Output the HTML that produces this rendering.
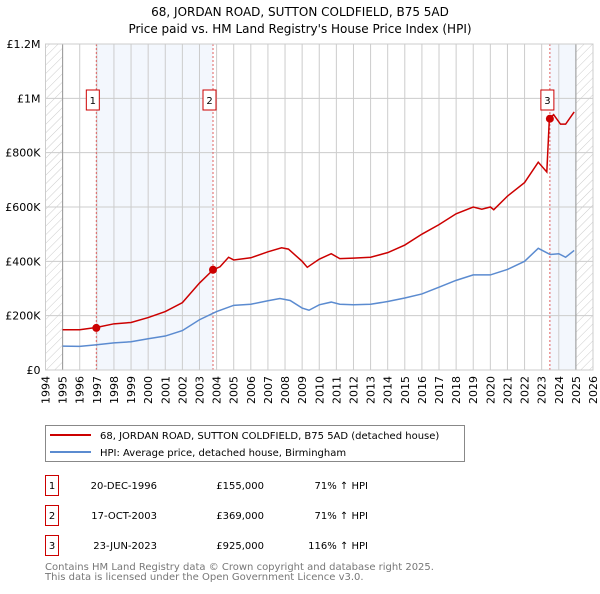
<!DOCTYPE html>
<html><head><meta charset="utf-8"><style>
body{margin:0;background:#fff;font-family:"DejaVu Sans","Liberation Sans",sans-serif;}
svg text{font-family:"DejaVu Sans","Liberation Sans",sans-serif;}
</style></head><body>
<svg id="chart" width="600" height="590" xmlns="http://www.w3.org/2000/svg">
<defs><pattern id="hatch" width="6" height="6" patternUnits="userSpaceOnUse" patternTransform="rotate(45)"><line x1="0" y1="0" x2="0" y2="6" stroke="#ccc" stroke-width="1"/></pattern></defs>
<text x="300" y="16" text-anchor="middle" font-size="12">68, JORDAN ROAD, SUTTON COLDFIELD, B75 5AD</text>
<text x="300" y="33" text-anchor="middle" font-size="12">Price paid vs. HM Land Registry's House Price Index (HPI)</text>
<g id="grid"></g><g id="marks"></g><g id="axes"></g>
<g>
<rect x="45.5" y="425.5" width="419" height="36" fill="#fff" stroke="#888"/>
<line x1="50" y1="435" x2="91" y2="435" stroke="#cc0000" stroke-width="2"/>
<text x="100" y="439" font-size="10">68, JORDAN ROAD, SUTTON COLDFIELD, B75 5AD (detached house)</text>
<line x1="50" y1="452" x2="91" y2="452" stroke="#5b8bd0" stroke-width="2"/>
<text x="100" y="456" font-size="10">HPI: Average price, detached house, Birmingham</text>
</g>
<g id="table" font-size="10"></g>
<text x="45" y="570" font-size="10" fill="#777">Contains HM Land Registry data © Crown copyright and database right 2025.</text>
<text x="45" y="580" font-size="10" fill="#777">This data is licensed under the Open Government Licence v3.0.</text>
</svg>
<script>
const yearTicks=[1994,1995,1996,1997,1998,1999,2000,2001,2002,2003,2004,2005,2006,2007,2008,2009,2010,2011,2012,2013,2014,2015,2016,2017,2018,2019,2020,2021,2022,2023,2024,2025,2026];
const priceTicks=[0,200000,400000,600000,800000,1000000,1200000];
const priceTickLabels=["£0","£200K","£400K","£600K","£800K","£1M","£1.2M"];
const hpiYears=[1995,1996,1997,1998,1999,2000,2001,2002,2003,2004,2005,2006,2007,2007.7,2008.3,2009,2009.4,2010,2010.7,2011.2,2012,2013,2014,2015,2016,2017,2018,2019,2020,2021,2022,2022.8,2023.5,2024,2024.4,2024.9];
const hpiValues=[88000,87000,93000,100000,104000,115000,125000,145000,185000,215000,238000,242000,255000,263000,256000,228000,220000,240000,250000,242000,240000,242000,252000,265000,280000,305000,330000,350000,350000,370000,400000,448000,425000,428000,415000,440000];
const priceYears=[1995,1996,1997,1998,1999,2000,2001,2002,2003,2003.8,2004.2,2004.7,2005,2006,2007,2007.8,2008.2,2009,2009.3,2010,2010.7,2011.2,2012,2013,2014,2015,2016,2017,2018,2019,2019.5,2020,2020.2,2021,2022,2022.8,2023.3,2023.45,2023.7,2024.1,2024.4,2024.9];
const priceValues=[148000,148000,157000,170000,175000,193000,215000,248000,320000,369000,380000,415000,405000,413000,435000,450000,445000,400000,378000,408000,428000,410000,412000,415000,432000,460000,500000,535000,575000,600000,592000,600000,590000,640000,690000,765000,729000,925000,940000,905000,905000,950000];
const saleYears=[1996.97,2003.79,2023.48];
const saleValues=[155000,369000,925000];
const saleDates=["20-DEC-1996","17-OCT-2003","23-JUN-2023"];
const salePrices=["£155,000","£369,000","£925,000"];
const saleHpi=["71% ↑ HPI","71% ↑ HPI","116% ↑ HPI"];
const X0=45.5,X1=593,Y0=370,Y1=44;
const x=y=>X0+(y-1994)/(2026-1994)*(X1-X0);
const yv=v=>Y0-v/1200000*(Y0-Y1);
const NS="http://www.w3.org/2000/svg";
function mk(p,t,a){const e=document.createElementNS(NS,t);for(const k in a)e.setAttribute(k,a[k]);p.appendChild(e);return e;}
const grid=document.getElementById('grid'),marks=document.getElementById('marks'),axes=document.getElementById('axes'),tbl=document.getElementById('table');
let r;
r=mk(grid,'rect',{x:x(saleYears[0]),y:Y1,width:x(saleYears[1])-x(saleYears[0]),height:Y0-Y1,fill:'#eef3fc',opacity:0.7});

r=mk(grid,'rect',{x:x(saleYears[2]),y:Y1,width:x(2025)-x(saleYears[2]),height:Y0-Y1,fill:'#eef3fc',opacity:0.7});

r=mk(grid,'rect',{x:X0,y:Y1,width:x(1995)-X0,height:Y0-Y1,fill:'url(#hatch)'});

r=mk(grid,'rect',{x:x(2025),y:Y1,width:X1-x(2025),height:Y0-Y1,fill:'url(#hatch)'});

yearTicks.forEach(t=>{const l=mk(grid,'line',{x1:x(t),x2:x(t),y1:Y1,y2:Y0,stroke:'#ccc'});

const tx=mk(axes,'text',{x:0,y:0,'font-size':11,'text-anchor':'end',transform:`translate(${x(t)+4},${Y0+6}) rotate(-90)`});tx.textContent=t;
});
priceTicks.forEach((t,i)=>{const l=mk(grid,'line',{x1:X0,x2:X1,y1:yv(t),y2:yv(t),stroke:'#ccc'});

const tx=mk(axes,'text',{x:X0-5,y:yv(t)+4,'font-size':11,'text-anchor':'end'});tx.textContent=priceTickLabels[i];
});
[1995,2025].forEach(t=>{const l=mk(grid,'line',{x1:x(t),x2:x(t),y1:Y1,y2:Y0,stroke:'#999'});
});
saleYears.forEach(s=>{const l=mk(marks,'line',{x1:x(s),x2:x(s),y1:Y1,y2:Y0,stroke:'#e06060','stroke-dasharray':'2,2'});
});
let p=mk(marks,'polyline',{points:hpiYears.map((t,i)=>x(t)+','+yv(hpiValues[i])).join(' '),fill:'none',stroke:'#5b8bd0','stroke-width':1.5});

p=mk(marks,'polyline',{points:priceYears.map((t,i)=>x(t)+','+yv(priceValues[i])).join(' '),fill:'none',stroke:'#cc0000','stroke-width':1.5});

saleYears.forEach((s,i)=>{const c=mk(marks,'circle',{cx:x(s),cy:yv(saleValues[i]),r:4,fill:'#cc0000'});

const bx=x(s)-(i==2?9:10),by=90;
const b=mk(marks,'rect',{x:bx,y:by,width:13,height:20,fill:'#fff',stroke:'#cc0000'});

const t=mk(marks,'text',{x:bx+6.5,y:by+14,'font-size':10,'text-anchor':'middle'});t.textContent=i+1;

const ry=476+i*30;
const rb=mk(tbl,'rect',{x:45.5,y:ry-0.5,width:13,height:20,fill:'#fff',stroke:'#cc0000'});

const tn=mk(tbl,'text',{x:52,y:ry+13,'text-anchor':'middle'});tn.textContent=i+1;

const td=mk(tbl,'text',{x:157,y:ry+13,'text-anchor':'end'});td.textContent=saleDates[i];

const tp=mk(tbl,'text',{x:264,y:ry+13,'text-anchor':'end'});tp.textContent=salePrices[i];

const th=mk(tbl,'text',{x:368,y:ry+13,'text-anchor':'end'});th.textContent=saleHpi[i];
});
const fr=mk(axes,'rect',{x:X0,y:Y1,width:X1-X0,height:Y0-Y1,fill:'none',stroke:'#ccc'});

</script>
</body></html>
